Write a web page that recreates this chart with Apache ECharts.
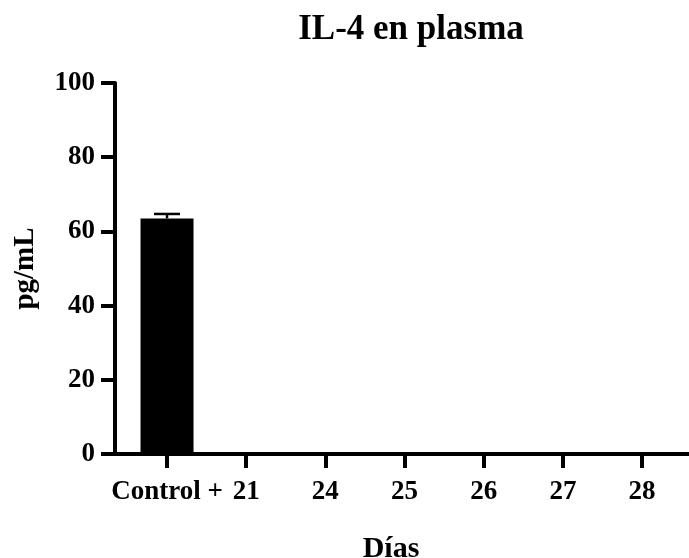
<!DOCTYPE html>
<html><head><meta charset="utf-8">
<script src="https://cdn.jsdelivr.net/npm/echarts@6/dist/echarts.min.js"></script>
<style>html,body{margin:0;padding:0;background:#fff}#c{width:689px;height:558px}</style>
</head><body><div id="c"></div>
<script>
const categories = ["Control +", "21", "24", "25", "26", "27", "28"];
const means = [63.5, 0, 0, 0, 0, 0, 0];
const errors = [1.2, 0, 0, 0, 0, 0, 0];
const yTicks = [0, 20, 40, 60, 80, 100];

const F = '"Liberation Serif", "Times New Roman", serif';
const idx = categories.map((c, i) => i);
const chart = echarts.init(document.getElementById('c'));
chart.setOption({
  animation: false,
  title: {
    text: 'IL-4 en plasma', left: 406, top: 7, textAlign: 'center',
    textStyle: {fontFamily: F, fontWeight: 'bold', fontSize: 35, color: '#000'}
  },
  grid: {left: 115, right: 0, top: 83, bottom: 104, containLabel: false, outerBoundsMode: 'none'},
  xAxis: {
    type: 'value', min: -0.657, max: 6.593,
    name: 'Días', nameLocation: 'middle', nameGap: 80,
    nameTextStyle: {fontFamily: F, fontWeight: 'bold', fontSize: 30, color: '#000', padding: [0, 22, 0, 0]},
    axisLine: {show: true, onZero: false, lineStyle: {color: '#000', width: 4}},
    axisTick: {show: true, length: 14, lineStyle: {color: '#000', width: 4}, customValues: idx},
    axisLabel: {
      customValues: idx, margin: 25,
      formatter: v => categories[Math.round(v)],
      fontFamily: F, fontWeight: 'bold', fontSize: 27, color: '#000'
    },
    splitLine: {show: false}
  },
  yAxis: {
    type: 'value', min: 0, max: 100, interval: 20,
    name: 'pg/mL', nameLocation: 'middle', nameGap: 75, nameRotate: 90,
    nameTextStyle: {fontFamily: F, fontWeight: 'bold', fontSize: 29, color: '#000'},
    axisLine: {show: true, onZero: false, lineStyle: {color: '#000', width: 4}},
    axisTick: {show: true, length: 14, lineStyle: {color: '#000', width: 4}},
    axisLabel: {margin: 20, fontFamily: F, fontWeight: 'bold', fontSize: 27, color: '#000',
      formatter: v => yTicks.includes(v) ? String(v) : ''},
    splitLine: {show: false}
  },
  series: [
    {
      type: 'bar', barWidth: 53,
      data: means.map((m, i) => [i, m]),
      itemStyle: {color: '#000'}
    },
    {
      type: 'custom',
      data: means.map((m, i) => [i, m, m + errors[i]]),
      renderItem: (params, api) => {
        if (api.value(2) <= api.value(1)) return null;
        const p0 = api.coord([api.value(0), api.value(1)]);
        const p1 = api.coord([api.value(0), api.value(2)]);
        const hw = 13;
        return {type: 'group', children: [
          {type: 'line', shape: {x1: p0[0], y1: p0[1], x2: p1[0], y2: p1[1]}, style: {stroke: '#000', lineWidth: 2.5}},
          {type: 'line', shape: {x1: p1[0] - hw, y1: p1[1], x2: p1[0] + hw, y2: p1[1]}, style: {stroke: '#000', lineWidth: 2.5}}
        ]};
      },
      z: 3
    }
  ]
});
</script></body></html>
